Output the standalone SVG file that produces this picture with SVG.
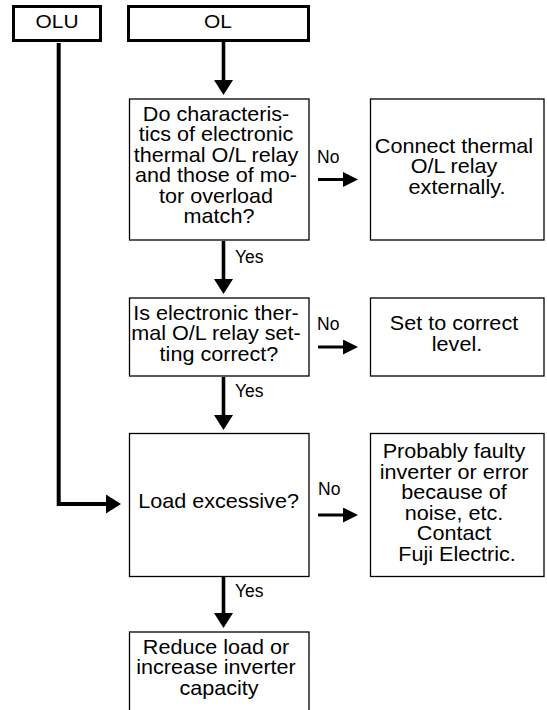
<svg xmlns="http://www.w3.org/2000/svg" width="547" height="710" viewBox="0 0 547 710">
  <style>
    .box { fill: #fff; stroke: #000; stroke-width: 1.3; }
    .hdr { fill: #fff; stroke: #000; stroke-width: 3; }
    .t { font-family: "Liberation Sans", Arial, Helvetica, sans-serif; font-size: 20px; text-anchor: middle; fill: #000; }
    .h { font-family: "Liberation Sans", Arial, Helvetica, sans-serif; font-size: 19px; text-anchor: middle; fill: #000; }
    .lbl { font-family: "Liberation Sans", Arial, Helvetica, sans-serif; font-size: 17.5px; fill: #000; }
    .v { fill: none; stroke: #000; stroke-width: 3.6; }
    .hz { fill: none; stroke: #000; stroke-width: 3; }
    .olu { fill: none; stroke: #000; stroke-width: 4; }
  </style>
  <defs>
    <marker id="ah" markerUnits="userSpaceOnUse" markerWidth="16" markerHeight="20" refX="1" refY="9.5" orient="auto" viewBox="0 0 16 20">
      <path d="M0,0 L15,9.5 L0,19 z" fill="#000"/>
    </marker>
    <marker id="ahs" markerUnits="userSpaceOnUse" markerWidth="16" markerHeight="16" refX="1" refY="7.5" orient="auto" viewBox="0 0 16 16">
      <path d="M0,0 L15,7.5 L0,15 z" fill="#000"/>
    </marker>
  </defs>

  <g id="node-olu">
    <rect class="hdr" x="13.5" y="6.5" width="87" height="34"/>
    <g transform="translate(57 0) scale(1.1 1)"><text class="h" x="0" y="28.5">OLU</text></g>
  </g>

  <g id="node-ol">
    <rect class="hdr" x="128.5" y="6.5" width="180" height="34"/>
    <g transform="translate(218 0) scale(1.1 1)"><text class="h" x="0" y="28.5">OL</text></g>
  </g>

  <g id="node-q1">
    <rect class="box" x="129.5" y="99" width="179.5" height="141"/>
    <g transform="translate(219 0) scale(1.08 1)">
      <text class="t">
        <tspan x="0" y="121">Do characteris-</tspan>
        <tspan x="0" y="141.5">tics of electronic</tspan>
        <tspan x="0" y="162">thermal O/L relay</tspan>
        <tspan x="0" y="182.5">and those of mo-</tspan>
        <tspan x="0" y="203">tor overload</tspan>
        <tspan x="0" y="223.5">match?</tspan>
      </text>
    </g>
  </g>

  <g id="node-a1">
    <rect class="box" x="370.5" y="99" width="173.5" height="141"/>
    <g transform="translate(457 0) scale(1.08 1)">
      <text class="t">
        <tspan x="0" y="153">Connect thermal</tspan>
        <tspan x="0" y="173.5">O/L relay</tspan>
        <tspan x="0" y="194">externally.</tspan>
      </text>
    </g>
  </g>

  <g id="node-q2">
    <rect class="box" x="129.5" y="298" width="179.5" height="78"/>
    <g transform="translate(219 0) scale(1.08 1)">
      <text class="t">
        <tspan x="0" y="320">Is electronic ther-</tspan>
        <tspan x="0" y="340.5">mal O/L relay set-</tspan>
        <tspan x="0" y="361">ting correct?</tspan>
      </text>
    </g>
  </g>

  <g id="node-a2">
    <rect class="box" x="370.5" y="298" width="173.5" height="78"/>
    <g transform="translate(457 0) scale(1.08 1)">
      <text class="t">
        <tspan x="0" y="330">Set to correct</tspan>
        <tspan x="0" y="351">level.</tspan>
      </text>
    </g>
  </g>

  <g id="node-q3">
    <rect class="box" x="129.5" y="433.5" width="179.5" height="143"/>
    <g transform="translate(218.5 0) scale(1.08 1)">
      <text class="t" x="0" y="508">Load excessive?</text>
    </g>
  </g>

  <g id="node-a3">
    <rect class="box" x="370.5" y="433.5" width="173.5" height="143"/>
    <g transform="translate(457 0) scale(1.08 1)">
      <text class="t">
        <tspan x="0" y="458.5">Probably faulty</tspan>
        <tspan x="0" y="479">inverter or error</tspan>
        <tspan x="0" y="499.5">because of</tspan>
        <tspan x="0" y="520">noise, etc.</tspan>
        <tspan x="0" y="540.5">Contact</tspan>
        <tspan x="0" y="561">Fuji Electric.</tspan>
      </text>
    </g>
  </g>

  <g id="node-r4">
    <rect class="box" x="129.5" y="632" width="179.5" height="90"/>
    <g transform="translate(219 0) scale(1.08 1)">
      <text class="t">
        <tspan x="0" y="654">Reduce load or</tspan>
        <tspan x="0" y="674.5">increase inverter</tspan>
        <tspan x="0" y="695">capacity</tspan>
      </text>
    </g>
  </g>

  <g id="connectors">
    <path class="v" d="M223.5,42 V81" marker-end="url(#ah)"/>
    <path class="v" d="M223.5,241 V280" marker-end="url(#ah)"/>
    <path class="v" d="M223.5,377 V416" marker-end="url(#ah)"/>
    <path class="v" d="M223.5,577 V614" marker-end="url(#ah)"/>
    <path class="olu" d="M58.7,43 V504 H107" marker-end="url(#ah)"/>
    <path class="hz" d="M318,179.5 H344" marker-end="url(#ahs)"/>
    <path class="hz" d="M318,347 H344" marker-end="url(#ahs)"/>
    <path class="hz" d="M318,515 H344" marker-end="url(#ahs)"/>
    <text class="lbl" x="235" y="263">Yes</text>
    <text class="lbl" x="235" y="397">Yes</text>
    <text class="lbl" x="235" y="597">Yes</text>
    <text class="lbl" x="317" y="163">No</text>
    <text class="lbl" x="317" y="330">No</text>
    <text class="lbl" x="318" y="495">No</text>
  </g>
</svg>
